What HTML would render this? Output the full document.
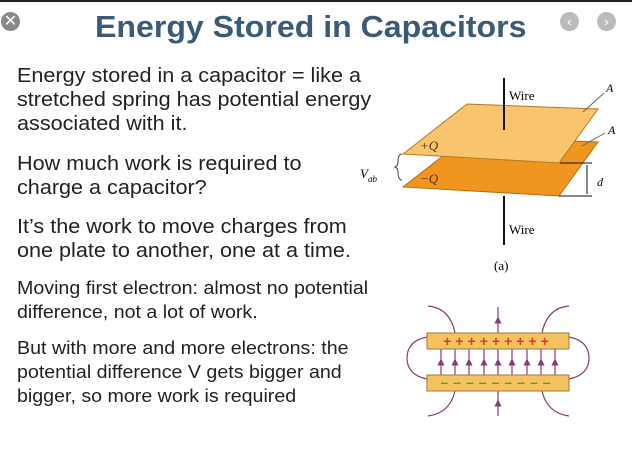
<html><head><style>
body{margin:0;width:632px;height:462px;background:#fff;overflow:hidden;position:relative;font-family:"Liberation Sans",sans-serif}
.t{position:absolute;left:17px;font-size:20px;color:#222;line-height:24px;transform:scaleX(1.08);transform-origin:0 0;white-space:nowrap}
.s{font-size:18px;transform:scaleX(1.09)}
</style></head><body>
<div style="position:absolute;left:0;top:0;width:632px;height:2px;background:#222"></div>
<div style="position:absolute;left:95px;top:9px;font-size:31px;font-weight:bold;color:#3b5a78;transform:scaleX(1.035);transform-origin:0 0;white-space:nowrap">Energy Stored in Capacitors</div>
<div style="position:absolute;left:1px;top:12px;width:19px;height:19px;border-radius:50%;background:#888;color:#fff;font-size:16px;text-align:center;line-height:19px">✕</div>
<div style="position:absolute;left:560px;top:12px;width:19px;height:19px;border-radius:50%;background:#bbb;color:#fff;font-size:14px;text-align:center;line-height:19px">‹</div>
<div style="position:absolute;left:597px;top:12px;width:19px;height:19px;border-radius:50%;background:#bbb;color:#fff;font-size:14px;text-align:center;line-height:19px">›</div>
<div class="t" style="top:64px">Energy stored in a capacitor = like a<br>stretched spring has potential energy<br>associated with it.</div>
<div class="t" style="top:152px">How much work is required to<br>charge a capacitor?</div>
<div class="t" style="top:215px">It’s the work to move charges from<br>one plate to another, one at a time.</div>
<div class="t s" style="top:276px">Moving first electron: almost no potential<br>difference, not a lot of work.</div>
<div class="t s" style="top:336px">But with more and more electrons: the<br>potential difference V gets bigger and<br>bigger, so more work is required</div>
<svg style="position:absolute;left:0;top:0" width="632" height="462" font-family="Liberation Serif,serif">
<defs><marker id="m" markerWidth="6" markerHeight="6" refX="3" refY="3" orient="auto"><path d="M0,0 L6,3 L0,6z" fill="#8a3b7a"/></marker></defs>
<polygon points="403,187 467,137 598,142 559,196" fill="#f0961e" stroke="#b86a10"/>
<polygon points="403,154 467,104 598,109 559,163" fill="#f9c46e" stroke="#b07a20"/>
<line x1="504" y1="78" x2="504" y2="130" stroke="#111" stroke-width="2"/>
<line x1="504" y1="196" x2="504" y2="245" stroke="#111" stroke-width="2"/>
<text x="509" y="100" font-size="13">Wire</text>
<text x="509" y="234" font-size="13">Wire</text>
<text x="606" y="92" font-size="12" font-style="italic">A</text>
<text x="608" y="134" font-size="12" font-style="italic">A</text>
<line x1="583" y1="112" x2="604" y2="93" stroke="#666"/>
<line x1="582" y1="146" x2="605" y2="133" stroke="#666"/>
<text x="420" y="150" font-size="13" font-style="italic" fill="#5a3000">+Q</text>
<text x="420" y="183" font-size="13" font-style="italic" fill="#5a3000">−Q</text>
<text x="360" y="178" font-size="13" font-style="italic">V<tspan font-size="9" dy="4">ab</tspan></text>
<path d="M402,154 q-4,0 -4,8 q0,4 -3,5 q3,1 3,5 q0,8 4,8" fill="none" stroke="#444"/>
<line x1="560" y1="163" x2="592" y2="163" stroke="#111"/>
<line x1="559" y1="196" x2="592" y2="196" stroke="#111"/>
<line x1="587" y1="165" x2="587" y2="194" stroke="#111"/>
<text x="597" y="186" font-size="12" font-style="italic">d</text>
<text x="494" y="270" font-size="13">(a)</text>
<g stroke="#8a3b7a" fill="none" stroke-width="1.2">
<polyline points="498,333 498,320 498,307" marker-mid="url(#m)"/>
<polyline points="498,416 498,403 498,391" marker-mid="url(#m)"/>
<path d="M427,337 q-20,4 -20,21 q0,17 20,21"/><path d="M569,337 q20,4 20,21 q0,17 -20,21"/>
<path d="M455,333 q-5,-25 -27,-27"/><path d="M542,333 q5,-25 27,-27"/>
<path d="M455,391 q-5,22 -27,25"/><path d="M542,391 q5,22 27,25"/>
<g marker-mid="url(#m)">
<polyline points="441,375 441,362 441,349"/><polyline points="455,375 455,362 455,349"/><polyline points="469,375 469,362 469,349"/><polyline points="484,375 484,362 484,349"/><polyline points="498,375 498,362 498,349"/><polyline points="512,375 512,362 512,349"/><polyline points="527,375 527,362 527,349"/><polyline points="541,375 541,362 541,349"/><polyline points="555,375 555,362 555,349"/>
</g>
</g>
<rect x="427" y="333" width="142" height="16" fill="#f5c25e" stroke="#9a7a40"/>
<rect x="427" y="375" width="142" height="16" fill="#f5c25e" stroke="#9a7a40"/>
<text x="498" y="346" font-size="14" font-weight="bold" fill="#d0402a" text-anchor="middle" font-family="Liberation Sans" letter-spacing="4">+++++++++</text>
<text x="498" y="387" font-size="14" font-weight="bold" fill="#5a9a50" text-anchor="middle" font-family="Liberation Sans" letter-spacing="5">–––––––––</text>
</svg>
</body></html>
